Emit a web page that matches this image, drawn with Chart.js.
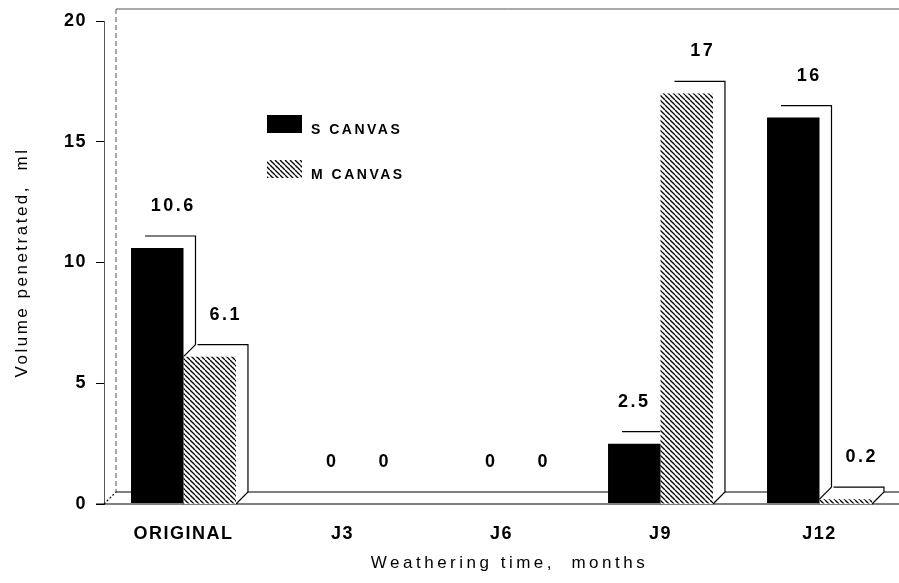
<!DOCTYPE html>
<html>
<head>
<meta charset="utf-8">
<script src="https://cdn.jsdelivr.net/npm/chart.js@4.4.1/dist/chart.umd.min.js"></script>
<style>
  html, body { margin: 0; padding: 0; background: #fff; overflow: hidden; }
  #wrap { position: relative; width: 899px; height: 583px; }
</style>
</head>
<body>
<div id="wrap"><canvas id="chart"></canvas></div>
<script>
const categories = ['ORIGINAL', 'J3', 'J6', 'J9', 'J12'];
const seriesNames = ['S CANVAS', 'M CANVAS'];
const sCanvas = [10.6, 0, 0, 2.5, 16];
const mCanvas = [6.1, 0, 0, 17, 0.2];
const yTicks = [0, 5, 10, 15, 20];
const xTitle = 'Weathering time,  months';
const yTitle = 'Volume penetrated,  ml';

const FONT = '"Liberation Sans", Arial, sans-serif';
const D = 12; // depth of the 3d offset

function hatch() {
  const c = document.createElement('canvas');
  c.width = 5; c.height = 5;
  const g = c.getContext('2d');
  g.fillStyle = '#fff';
  g.fillRect(0, 0, 5, 5);
  g.strokeStyle = '#000';
  g.lineWidth = 1.3;
  for (const k of [-5, 0, 5]) {
    g.beginPath(); g.moveTo(k, 0); g.lineTo(k + 5, 5); g.stroke();
  }
  return g.createPattern(c, 'repeat');
}
const hatchFill = hatch();

function line(ctx, x1, y1, x2, y2) {
  ctx.beginPath(); ctx.moveTo(x1, y1); ctx.lineTo(x2, y2); ctx.stroke();
}

const spacing = {
  id: 'spacing',
  beforeLayout(chart) { chart.ctx.letterSpacing = '1.5px'; },
  beforeDraw(chart) { chart.ctx.letterSpacing = '1.5px'; }
};

const box3d = {
  id: 'box3d',
  beforeDatasetsDraw(chart) {
    const { ctx, chartArea: a, scales: { y } } = chart;
    const base = y.getPixelForValue(0);
    const top = y.getPixelForValue(yTicks[yTicks.length - 1]);
    ctx.save();
    // back wall and floor
    ctx.strokeStyle = '#555';
    ctx.lineWidth = 1;
    ctx.setLineDash([5, 3]);
    line(ctx, a.left + D, top - D, a.left + D, base - D);
    ctx.setLineDash([]);
    line(ctx, a.left + D, top - D, a.right, top - D);
    ctx.strokeStyle = '#000';
    ctx.lineWidth = 1.2;
    line(ctx, a.left + D, base - D, a.right, base - D);
    line(ctx, a.left - 8, base, a.right, base);
    ctx.setLineDash([2, 2]);
    line(ctx, a.left, base, a.left + D, base - D);
    ctx.setLineDash([]);
    // extruded silhouettes behind each bar
    const metas = chart.data.datasets.map((d, i) => chart.getDatasetMeta(i));
    categories.forEach((c, idx) => {
      metas.forEach((m, k) => {
        const b = m.data[idx];
        const x0 = b.x - b.width / 2, x1 = b.x + b.width / 2, y0 = b.y;
        if (base - y0 < 0.5) return;
        ctx.beginPath();
        ctx.moveTo(x0, base);
        ctx.lineTo(x0, y0);
        ctx.lineTo(x0 + D, y0 - D);
        ctx.lineTo(x1 + D, y0 - D);
        ctx.lineTo(x1 + D, base - D);
        ctx.lineTo(x1, base);
        ctx.closePath();
        ctx.fillStyle = '#fff';
        ctx.fill();
        // outline: top, right side and bottom corner only
        ctx.beginPath();
        ctx.moveTo(x0 + D + 2, y0 - D);
        ctx.lineTo(x1 + D, y0 - D);
        ctx.lineTo(x1 + D, base - D);
        ctx.lineTo(x1, base);
        ctx.stroke();
        const prev = k > 0 ? metas[k - 1].data[idx] : null;
        if (prev && prev.y < y0) line(ctx, x0, y0, x0 + D, y0 - D);
      });
    });
    ctx.restore();
  },
  afterDatasetsDraw(chart) {
    const { ctx } = chart;
    const sets = chart.data.datasets;
    ctx.save();
    ctx.fillStyle = '#000';
    ctx.font = 'bold 18px ' + FONT;
    ctx.letterSpacing = '2.5px';
    ctx.textAlign = 'center';
    ctx.textBaseline = 'middle';
    sets.forEach((ds, i) => {
      const meta = chart.getDatasetMeta(i);
      ds.data.forEach((v, j) => {
        const b = meta.data[j];
        const nxt = sets[i + 1];
        const blocked = nxt && nxt.data[j] > v;
        const dx = blocked ? 0 : 16;
        ctx.fillText(String(v), b.x + dx, b.y - D - 30);
      });
    });
    ctx.restore();
  },
  afterDraw(chart) {
    const { ctx, chartArea: a } = chart;
    ctx.save();
    ctx.fillStyle = '#000';
    ctx.textBaseline = 'middle';
    // legend
    ctx.font = 'bold 14px ' + FONT;
    ctx.letterSpacing = '2.5px';
    ctx.textAlign = 'left';
    chart.data.datasets.forEach((ds, i) => {
      const by = 115 + i * 45;
      ctx.fillStyle = ds.backgroundColor;
      ctx.fillRect(267, by, 35, 18);
      ctx.fillStyle = '#000';
      ctx.fillText(ds.label, 311, by + 15);
    });
    // axis titles
    ctx.font = '17px ' + FONT;
    ctx.letterSpacing = '3.5px';
    ctx.textAlign = 'center';
    ctx.fillText(xTitle, (a.left + a.right) / 2 + 8, 563);
    ctx.translate(22, (a.top + a.bottom) / 2);
    ctx.rotate(-Math.PI / 2);
    ctx.letterSpacing = '2.5px';
    ctx.fillText(yTitle, 0, 0);
    ctx.restore();
  }
};

new Chart(document.getElementById('chart'), {
  type: 'bar',
  data: {
    labels: categories,
    datasets: [
      { label: seriesNames[0], data: sCanvas, backgroundColor: '#000', borderWidth: 0 },
      { label: seriesNames[1], data: mCanvas, backgroundColor: hatchFill, borderWidth: 0 }
    ]
  },
  options: {
    responsive: true,
    maintainAspectRatio: false,
    animation: false,
    devicePixelRatio: 1,
    layout: { padding: { top: 21, right: 0, left: 0, bottom: 0 } },
    datasets: { bar: { barPercentage: 1, categoryPercentage: 0.66 } },
    plugins: { legend: { display: false }, tooltip: { enabled: false } },
    scales: {
      x: {
        grid: { display: false, drawTicks: false },
        border: { display: false },
        ticks: { color: '#000', font: { family: FONT, size: 18, weight: 'bold' }, padding: 19 },
        afterFit: s => { s.height = 79; }
      },
      y: {
        min: 0, max: 20,
        afterBuildTicks: s => { s.ticks = yTicks.map(v => ({ value: v })); },
        grid: { drawOnChartArea: false, drawTicks: true, tickLength: 8, color: '#000' },
        border: { display: true, color: '#555', dash: [6, 3] },
        ticks: { color: '#000', font: { family: FONT, size: 18, weight: 'bold' }, padding: 9 },
        afterFit: s => { s.width = 104; }
      }
    }
  },
  plugins: [spacing, box3d]
});
</script>
</body>
</html>
